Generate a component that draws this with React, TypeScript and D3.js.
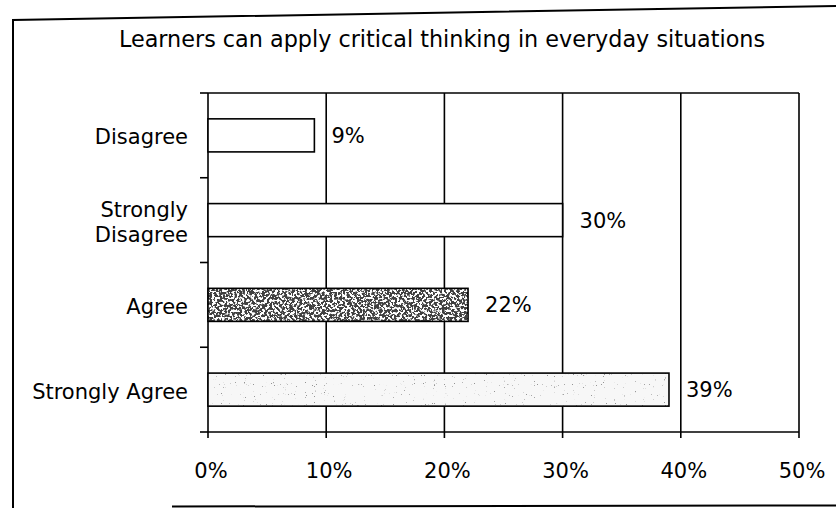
import React from "react";
import * as d3 from "d3";

const categories = ["Disagree", "Strongly Disagree", "Agree", "Strongly Agree"];
const categoryLines = [["Disagree"], ["Strongly", "Disagree"], ["Agree"], ["Strongly Agree"]];
const values = [9, 30, 22, 39];
const xTicks = [0, 10, 20, 30, 40, 50];
const title = "Learners can apply critical thinking in everyday situations";

const W = 836;
const H = 508;
const FONT = "'DejaVu Sans', 'Liberation Sans', Arial, sans-serif";

export default function App() {
  const x = d3.scaleLinear().domain([0, 50]).range([208, 799]);
  const y = d3
    .scaleBand<string>()
    .domain(categories)
    .range([93, 432])
    .paddingInner(0.61)
    .paddingOuter(0.305);
  const step = y.step();
  const [top, bottom] = y.range();
  const boundaries = d3.range(categories.length + 1).map((i) => top + i * step);
  const fills = ["#ffffff", "#ffffff", "#ffffff", "#f7f7f7"];
  const speckle = [null, null, "url(#darkSpeck)", "url(#lightSpeck)"];

  return (
    <svg
      width={W}
      height={H}
      style={{ position: "absolute", left: 0, top: 0, background: "#fff" }}
    >
      <defs>
        <filter id="darkSpeck" x="0" y="0" width="1" height="1">
          <feTurbulence type="fractalNoise" baseFrequency="0.4" numOctaves="3" seed="7" result="noise" />
          <feColorMatrix
            in="noise"
            type="matrix"
            values="0 0 0 0 0.05  0 0 0 0 0.05  0 0 0 0 0.05  14 0 0 0 -6.3"
            result="specks"
          />
          <feComposite in="specks" in2="SourceGraphic" operator="in" />
        </filter>
        <filter id="lightSpeck" x="0" y="0" width="1" height="1">
          <feTurbulence type="fractalNoise" baseFrequency="0.9" numOctaves="1" seed="3" result="noise" />
          <feColorMatrix
            in="noise"
            type="matrix"
            values="0 0 0 0 0.3  0 0 0 0 0.3  0 0 0 0 0.3  16 0 0 0 -11.2"
            result="specks"
          />
          <feComposite in="specks" in2="SourceGraphic" operator="in" />
        </filter>
      </defs>

      {/* outer frame (scanned) */}
      <path d={`M836,6 L13,20 L13,${H}`} fill="none" stroke="#000" strokeWidth={2} />
      <path d={`M172,${H - 1.5} L${W},${H - 2.5}`} fill="none" stroke="#000" strokeWidth={2} />

      <text
        x={442}
        y={47}
        textAnchor="middle"
        fontFamily={FONT}
        fontSize={22.3}
        fill="#000"
      >
        {title}
      </text>

      {/* vertical gridlines */}
      {xTicks.slice(1).map((t) => (
        <line key={t} x1={x(t)} x2={x(t)} y1={top} y2={bottom + 6} stroke="#000" strokeWidth={1.6} />
      ))}
      {/* plot top border */}
      <line x1={x(0)} x2={x(50)} y1={top} y2={top} stroke="#000" strokeWidth={1.6} />
      {/* axes */}
      <line x1={x(0)} x2={x(0)} y1={top} y2={bottom + 6} stroke="#000" strokeWidth={1.6} />
      <line x1={x(0)} x2={x(50)} y1={bottom} y2={bottom} stroke="#000" strokeWidth={1.6} />
      {boundaries.map((b, i) => (
        <line key={i} x1={x(0) - 8} x2={x(0)} y1={b} y2={b} stroke="#000" strokeWidth={1.6} />
      ))}

      {/* bars */}
      {categories.map((c, i) => {
        const yy = y(c) as number;
        const w = x(values[i]) - x(0);
        return (
          <g key={c}>
            <rect x={x(0)} y={yy} width={w} height={y.bandwidth()} fill={fills[i]} />
            {speckle[i] && (
              <rect x={x(0)} y={yy} width={w} height={y.bandwidth()} fill="#fff" filter={speckle[i] as string} />
            )}
            <rect
              x={x(0)}
              y={yy}
              width={w}
              height={y.bandwidth()}
              fill="none"
              stroke="#000"
              strokeWidth={1.6}
            />
            <text
              x={x(values[i]) + 17}
              y={yy + y.bandwidth() / 2 + 7.5}
              fontFamily={FONT}
              fontSize={21}
              fill="#000"
            >
              {values[i]}%
            </text>
          </g>
        );
      })}

      {/* category labels */}
      {categories.map((c, i) => {
        const cy = (y(c) as number) + y.bandwidth() / 2;
        const lines = categoryLines[i];
        const start = lines.length === 1 ? cy + 9 : cy - 3;
        return (
          <text key={c} textAnchor="end" fontFamily={FONT} fontSize={21} fill="#000">
            {lines.map((ln, j) => (
              <tspan key={j} x={188} y={start + j * 25}>
                {ln}
              </tspan>
            ))}
          </text>
        );
      })}

      {/* x tick labels */}
      {xTicks.map((t) => (
        <text
          key={t}
          x={x(t) + 3}
          y={478}
          textAnchor="middle"
          fontFamily={FONT}
          fontSize={21}
          fill="#000"
        >
          {`${t}%`}
        </text>
      ))}
    </svg>
  );
}
